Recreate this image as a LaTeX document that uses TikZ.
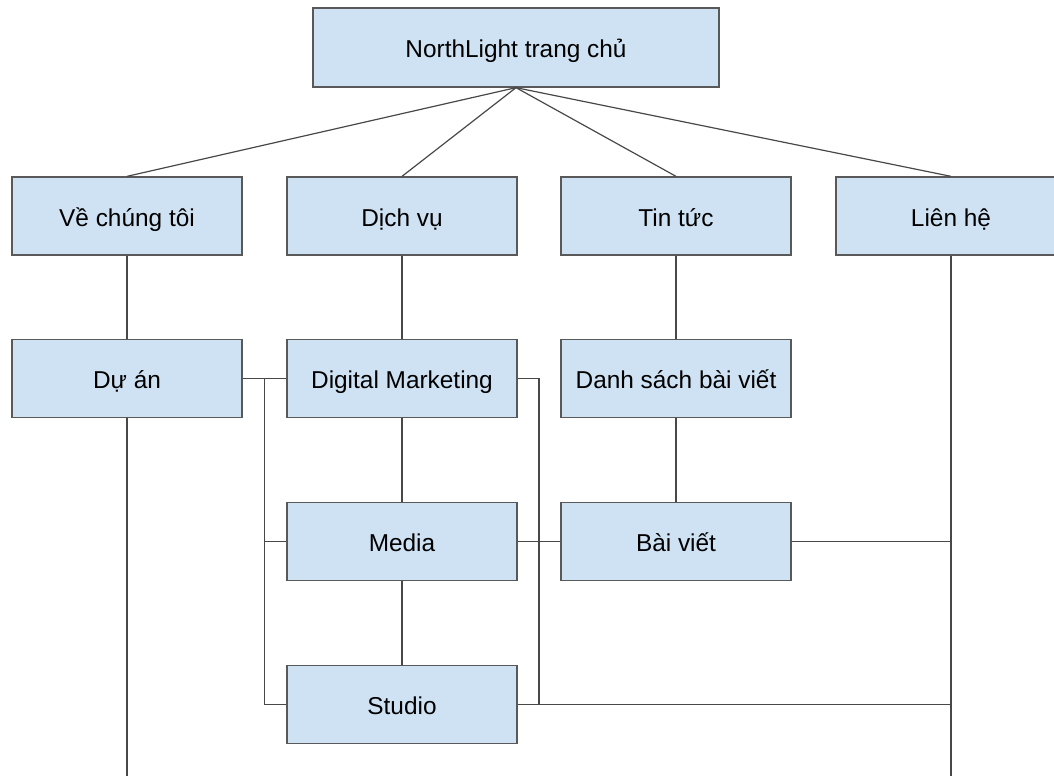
\documentclass[tikz,border=0pt]{standalone}
\usepackage{fontspec}
\setmainfont{Liberation Sans}
\usetikzlibrary{calc}
\definecolor{boxblue}{HTML}{CFE2F3}
\definecolor{boxline}{HTML}{595959}
\definecolor{linkgray}{HTML}{484848}
\tikzset{
	pagebox/.style={draw=boxline, fill=boxblue, line width=0.65pt, minimum width=115pt, minimum height=39pt, inner sep=0pt, text height=12.5pt, text depth=2.5pt, font=\fontsize{12.2}{14}\selectfont},
	link/.style={draw=linkgray, line width=0.6pt}
}

\begin{document}
\begin{tikzpicture}[x=0.5pt, y=-0.5pt]
			%%%%% START %%%%%
			\useasboundingbox (0, 0) rectangle (1054, 776);
			
			\node[pagebox, minimum width=203pt, minimum height=39.5pt] (home) at (516, 47.5) {NorthLight trang chủ};
			
			\node[pagebox] (about) at (127, 216) {Về chúng tôi};
			\node[pagebox] (services) at (402, 216) {Dịch vụ};
			\node[pagebox] (news) at (676, 216) {Tin tức};
			\node[pagebox] (contact) at (951, 216) {Liên hệ};
			
			\node[pagebox] (projects) at (127, 378.5) {Dự án};
			\node[pagebox] (digital) at (402, 378.5) {Digital Marketing};
			\node[pagebox] (postlist) at (676, 378.5) {Danh sách bài viết};
			
			\node[pagebox] (media) at (402, 541.5) {Media};
			\node[pagebox] (post) at (676, 541.5) {Bài viết};
			
			\node[pagebox] (studio) at (402, 704.5) {Studio};
			
			\coordinate (projectsend) at (127, 776);
			\coordinate (contactend) at (951, 776);
			
			\foreach \n in {about, services, news, contact}
				\draw[link] (home.south) -- (\n.north);
			
			\draw[link] (about.south) -- (projects.north);
			\draw[link] (services.south) -- (digital.north);
			\draw[link] (digital.south) -- (media.north);
			\draw[link] (media.south) -- (studio.north);
			\draw[link] (news.south) -- (postlist.north);
			\draw[link] (postlist.south) -- (post.north);
			
			\coordinate (leftbus) at ($(projects.east)!0.5!(digital.west)$);
			\draw[link] (projects.east) -- (leftbus) -- (digital.west);
			\draw[link] (leftbus) |- (media.west);
			\draw[link] (leftbus) |- (studio.west);
			
			\coordinate (midbus) at ($(digital.east)!0.5!(postlist.west)$);
			\draw[link] (digital.east) -- (midbus) |- (studio.east);
			\draw[link] (media.east) -- (post.west);
			
			\draw[link] (post.east) -| (contact.south);
			\draw[link] (studio.east) -| (contact.south);
			
			\draw[link] (contact.south) -- (contactend);
			\draw[link] (projects.south) -- (projectsend);
			%%%%% END %%%%%
\end{tikzpicture}
\end{document}
